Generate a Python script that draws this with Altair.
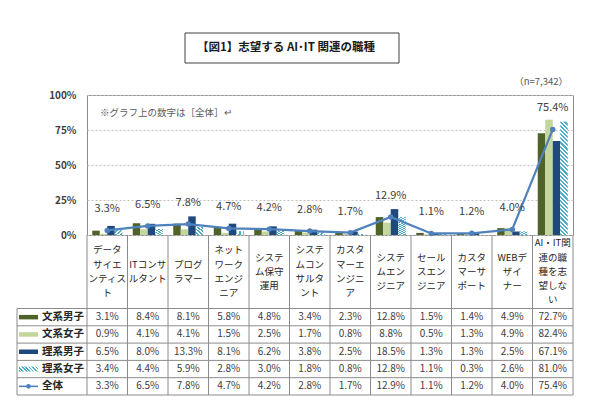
import altair as alt
import pandas as pd

# ---- data -------------------------------------------------------------
CATEGORIES = [
    "データサイエンティスト", "ITコンサルタント", "プログラマー", "ネットワークエンジニア",
    "システム保守運用", "システムコンサルタント", "カスタマーエンジニア", "システムエンジニア",
    "セールスエンジニア", "カスタマーサポート", "WEBデザイナー", "AI・IT関連の職種を志望しない",
]
CATEGORY_LINES = [
    "データ\nサイエ\nンティス\nト", "ITコンサ\nルタント", "プログ\nラマー",
    "ネット\nワーク\nエンジ\nニア", "システ\nム保守\n運用", "システ\nムコン\nサルタ\nント",
    "カスタ\nマーエ\nンジニ\nア", "システ\nムエン\nジニア", "セール\nスエン\nジニア",
    "カスタ\nマーサ\nポート", "WEBデ\nザイ\nナー", "AI・IT関\n連の職\n種を志\n望しな\nい",
]
SERIES = ["文系男子", "文系女子", "理系男子", "理系女子"]
TOTAL_NAME = "全体"

BUNKEI_DANSHI = [3.1, 8.4, 8.1, 5.8, 4.8, 3.4, 2.3, 12.8, 1.5, 1.4, 4.9, 72.7]
BUNKEI_JOSHI = [0.9, 4.1, 4.1, 1.5, 2.5, 1.7, 0.8, 8.8, 0.5, 1.3, 4.9, 82.4]
RIKEI_DANSHI = [6.5, 8.0, 13.3, 8.1, 6.2, 3.8, 2.5, 18.5, 1.3, 1.3, 2.5, 67.1]
RIKEI_JOSHI = [3.4, 4.4, 5.9, 2.8, 3.0, 1.8, 0.8, 12.8, 1.1, 0.3, 2.6, 81.0]
TOTAL = [3.3, 6.5, 7.8, 4.7, 4.2, 2.8, 1.7, 12.9, 1.1, 1.2, 4.0, 75.4]

Y_TICKS = [0, 25, 50, 75, 100]
TITLE = "【図1】志望する AI･IT 関連の職種"
SAMPLE_NOTE = "（n=7,342）"
LABEL_NOTE = "※グラフ上の数字は［全体］↵"

# ---- styling ----------------------------------------------------------
FONT = "Noto Sans CJK JP"
SOLID = ["文系男子", "文系女子", "理系男子"]
SOLID_COLORS = ["#4F6228", "#C3D69B", "#1F497D"]
HATCH_COLOR = "#4BACC6"
LINE_COLOR = "#4F81BD"
GRID_LINE = "#8C8C8C"

PLOT_W, PLOT_H = 486, 140
TABLE_TOP, ROW_H = 213.5, 17.3
TABLE_BOTTOM = TABLE_TOP + 5 * ROW_H
LEFT_COL = -70
HEADER_MID = (PLOT_H + TABLE_TOP) / 2
HEADER_LINE_H = 14.2


def hatch(w, h, period, color, frac=0.5):
    """Diagonal (top-left to bottom-right) stripes as a linear gradient
    laid out for a box of w x h pixels."""
    k = (w + h) / (w * w + h * h)
    n = max(1, round((w + h) / period))
    stops = []
    for i in range(n):
        a, b, c = i / n, (i + frac) / n, (i + 1) / n
        stops += [
            {"offset": a, "color": color},
            {"offset": b, "color": color},
            {"offset": b, "color": "#ffffff"},
            {"offset": c, "color": "#ffffff"},
        ]
    return {"gradient": "linear", "x1": 0, "y1": 1, "x2": k * w, "y2": 1 - k * h,
            "stops": stops}


# ---- tables -----------------------------------------------------------
series_values = dict(zip(SERIES, [BUNKEI_DANSHI, BUNKEI_JOSHI, RIKEI_DANSHI, RIKEI_JOSHI]))
bars = pd.DataFrame(
    [{"category": c, "series": s, "value": v}
     for s in SERIES for c, v in zip(CATEGORIES, series_values[s])]
)
total = pd.DataFrame({"idx": range(len(CATEGORIES)), "category": CATEGORIES, "value": TOTAL})
header = pd.DataFrame({"category": CATEGORIES})

# one record per wrapped line of a category name, centred around 0
header_lines = []
for c, wrapped in zip(CATEGORIES, CATEGORY_LINES):
    parts = wrapped.split("\n")
    for i, part in enumerate(parts):
        header_lines.append({"category": c, "text": part, "pos": i - (len(parts) - 1) / 2})
header_lines = pd.DataFrame(header_lines)

rows = SERIES + [TOTAL_NAME]
all_values = dict(series_values, **{TOTAL_NAME: TOTAL})
cells = pd.DataFrame(
    [{"category": c, "row": r, "value": v}
     for r in rows for c, v in zip(CATEGORIES, all_values[r])]
)
row_df = pd.DataFrame({"row": rows})
one = pd.DataFrame({"k": [0]})

# ---- encodings --------------------------------------------------------
x_scale = alt.Scale(type="band", domain=CATEGORIES, paddingInner=0, paddingOuter=0)
x_cat = alt.X("category:N", sort=CATEGORIES, scale=x_scale, axis=None)
x_edge = alt.X("category:N", sort=CATEGORIES, scale=x_scale, axis=None, bandPosition=0)
x_off = alt.XOffset("series:N", sort=SERIES,
                    scale=alt.Scale(domain=SERIES, paddingInner=0, paddingOuter=0.7))
y_val = alt.Y(
    "value:Q",
    scale=alt.Scale(domain=[0, 100], nice=False, zero=True),
    axis=alt.Axis(values=Y_TICKS, labelExpr="datum.value + '%'", grid=True,
                  gridDash=[2, 2], gridColor="#BFBFBF", domain=False, ticks=False,
                  labelPadding=11, labelFontSize=10, labelFontWeight="bold",
                  labelColor="#404040", labelFont=FONT),
    title=None,
)
y_row_scale = alt.Scale(type="band", domain=rows, range=[TABLE_TOP, TABLE_BOTTOM],
                        paddingInner=0, paddingOuter=0)
y_row = alt.Y("row:N", scale=y_row_scale, axis=None)
y_row_top = alt.Y("row:N", scale=y_row_scale, axis=None, bandPosition=0)
color_solid = alt.Color("series:N", scale=alt.Scale(domain=SOLID, range=SOLID_COLORS),
                        legend=None)

# ---- plot area ----------------------------------------------------------
solid_bars = alt.Chart(bars[bars.series.isin(SOLID)]).mark_bar().encode(
    x=x_cat, xOffset=x_off, y=y_val, color=color_solid
)
hatched_bars = alt.Chart(bars[bars.series == "理系女子"]).mark_bar(
    color=hatch(7.5, 113.4, 4.2, HATCH_COLOR)
).encode(x=x_cat, xOffset=x_off, y=y_val)
total_line = alt.Chart(total).mark_line(color=LINE_COLOR, strokeWidth=2.2).encode(
    x=x_cat, y=y_val, order="idx:Q"
)
total_points = alt.Chart(total).mark_circle(color=LINE_COLOR, size=30, opacity=1).encode(
    x=x_cat, y=y_val
)
total_labels = alt.Chart(total).transform_calculate(
    label="format(datum.value, '.1f') + '%'"
).mark_text(dy=-21, fontSize=11, color="#404040", font=FONT).encode(
    x=x_cat, y=y_val, text="label:N"
)

plot = alt.layer(solid_bars, hatched_bars, total_line, total_points, total_labels)

# ---- category names under the plot -------------------------------------
header_text = alt.Chart(header_lines).mark_text(
    baseline="middle", fontSize=9.5, color="#262626", font=FONT
).encode(
    x=x_cat,
    y=alt.Y("pos:Q", axis=None,
            scale=alt.Scale(domain=[-1, 1], nice=False, zero=False,
                            range=[HEADER_MID - HEADER_LINE_H, HEADER_MID + HEADER_LINE_H])),
    text="text:N",
)

# ---- data table ----------------------------------------------------------
cell_text = alt.Chart(cells).transform_calculate(
    label="format(datum.value, '.1f') + '%'"
).mark_text(fontSize=10, color="#404040", font=FONT).encode(
    x=x_cat, y=y_row, text="label:N"
)

h_lines = alt.Chart(row_df).mark_rule(color=GRID_LINE, strokeWidth=1).encode(
    y=y_row_top, x=alt.value(LEFT_COL), x2=alt.value(PLOT_W)
)
bottom_line = alt.Chart(one).mark_rule(color=GRID_LINE, strokeWidth=1).encode(
    y=alt.value(TABLE_BOTTOM), x=alt.value(LEFT_COL), x2=alt.value(PLOT_W)
)
v_lines = alt.Chart(header).mark_rule(color=GRID_LINE, strokeWidth=1).encode(
    x=x_edge, y=alt.value(PLOT_H), y2=alt.value(TABLE_BOTTOM)
)
right_line = alt.Chart(one).mark_rule(color=GRID_LINE, strokeWidth=1).encode(
    x=alt.value(PLOT_W), y=alt.value(PLOT_H), y2=alt.value(TABLE_BOTTOM)
)
left_line = alt.Chart(one).mark_rule(color=GRID_LINE, strokeWidth=1).encode(
    x=alt.value(LEFT_COL), y=alt.value(TABLE_TOP), y2=alt.value(TABLE_BOTTOM)
)

row_names = alt.Chart(row_df).mark_text(
    align="left", fontSize=10.5, fontWeight="bold", color="#262626", font=FONT
).encode(x=alt.value(-45), y=y_row, text="row:N")

swatch_solid = alt.Chart(row_df[row_df.row.isin(SOLID)]).mark_rule(strokeWidth=4.5).encode(
    x=alt.value(-68), x2=alt.value(-49), y=y_row,
    color=alt.Color("row:N", scale=alt.Scale(domain=SOLID, range=SOLID_COLORS), legend=None),
)
hatch_row_mid = TABLE_TOP + (SERIES.index("理系女子") + 0.5) * ROW_H
swatch_hatch = alt.Chart(one).mark_rect(color=hatch(19, 5, 3.6, HATCH_COLOR)).encode(
    x=alt.value(-68), x2=alt.value(-49),
    y=alt.value(hatch_row_mid - 2.5), y2=alt.value(hatch_row_mid + 2.5),
)
total_row = row_df[row_df.row == TOTAL_NAME]
swatch_line = alt.Chart(total_row).mark_rule(color=LINE_COLOR, strokeWidth=1.6).encode(
    x=alt.value(-68), x2=alt.value(-49), y=y_row
)
swatch_point = alt.Chart(total_row).mark_circle(color=LINE_COLOR, size=22, opacity=1).encode(
    x=alt.value(-58.5), y=y_row
)

table = alt.layer(
    cell_text, h_lines, bottom_line, v_lines, right_line, left_line,
    row_names, swatch_solid, swatch_hatch, swatch_line, swatch_point,
)

# ---- title box and notes -----------------------------------------------
title_box = alt.Chart(one).mark_rect(fill="#ffffff", stroke="#404040", strokeWidth=1).encode(
    x=alt.value(98), x2=alt.value(312), y=alt.value(-62), y2=alt.value(-32)
)
title_text = alt.Chart(one).mark_text(
    text=TITLE, fontSize=11.5, fontWeight="bold", color="#1a1a1a", font=FONT
).encode(x=alt.value(199), y=alt.value(-47))
n_text = alt.Chart(one).mark_text(
    text=SAMPLE_NOTE, align="right", fontSize=9.5, color="#595959", font=FONT
).encode(x=alt.value(481), y=alt.value(-13))
note_text = alt.Chart(one).mark_text(
    text=LABEL_NOTE, align="left", fontSize=9.5, color="#595959", font=FONT
).encode(x=alt.value(13), y=alt.value(18))

decor = alt.layer(title_box, title_text, n_text, note_text)

chart = (
    alt.layer(plot, header_text, table, decor)
    .resolve_scale(y="independent")
    .properties(
        width=PLOT_W,
        height=PLOT_H,
        padding={"left": 87, "top": 95, "right": 17, "bottom": 175},
        autosize=alt.AutoSizeParams(type="none"),
        background="#ffffff",
    )
    .configure_view(stroke=GRID_LINE, strokeWidth=1)
    .configure_text(font=FONT)
)

chart.save("out.html", embed_options={"renderer": "svg", "actions": False})
